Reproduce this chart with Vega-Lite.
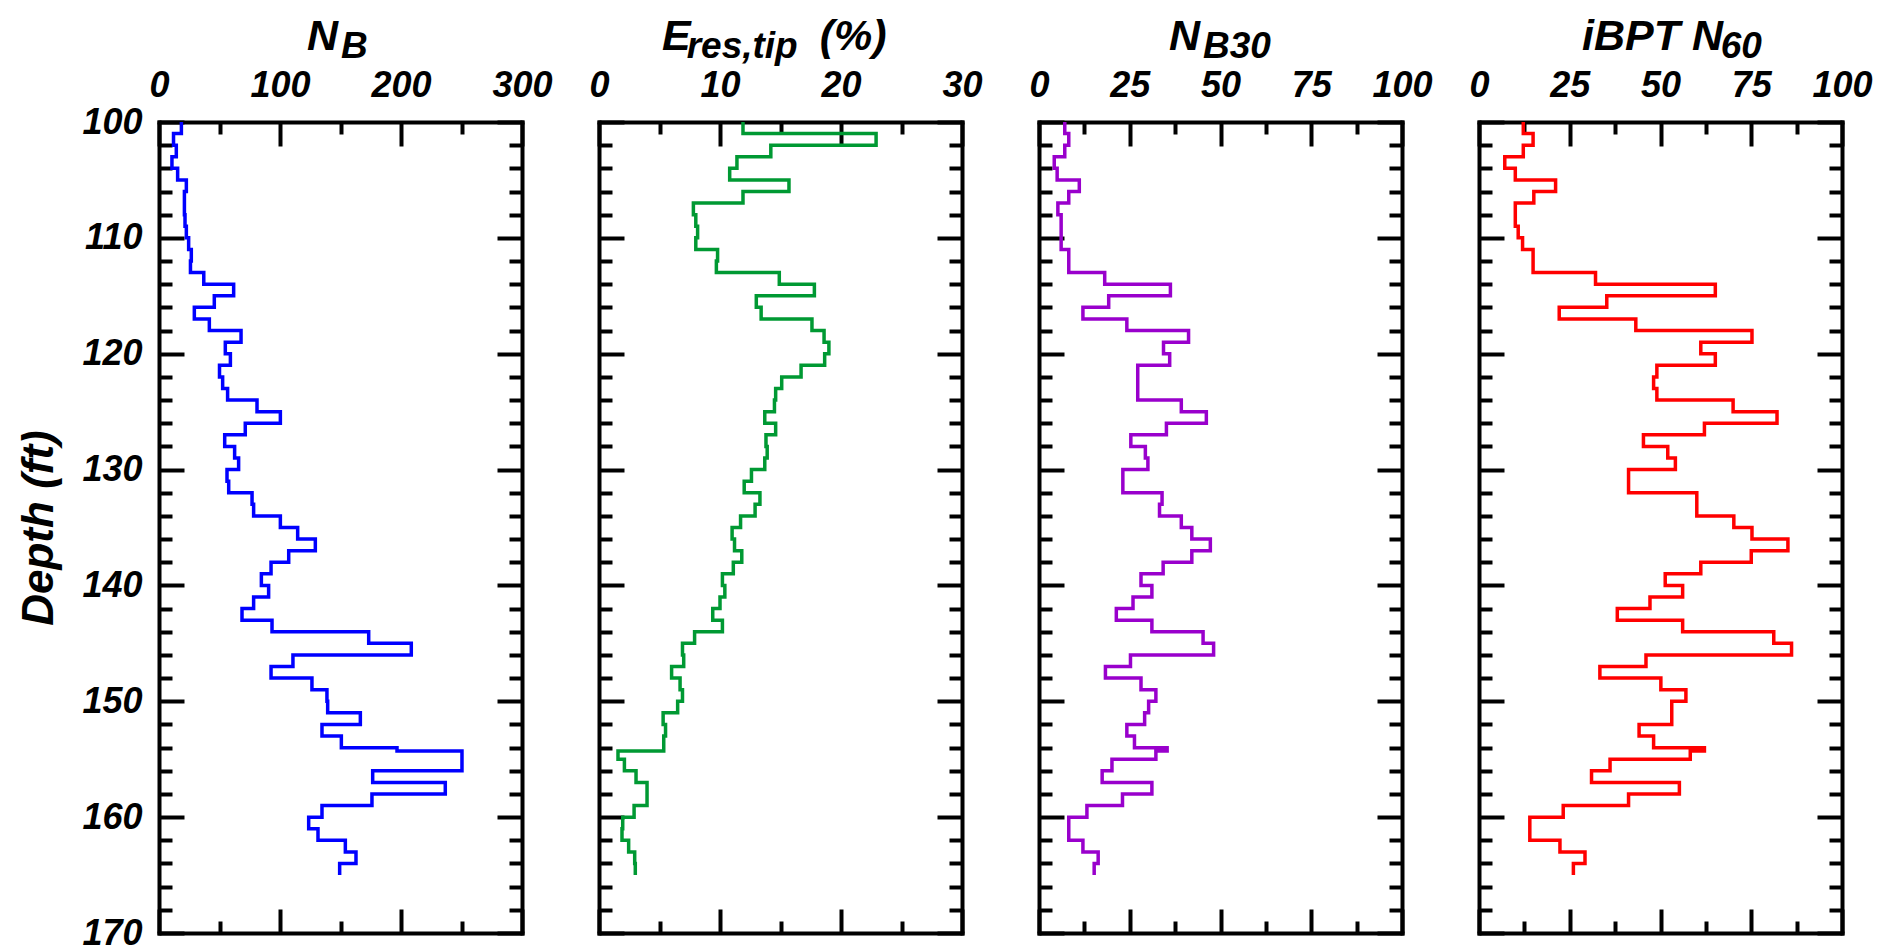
{
  "$schema": "https://vega.github.io/schema/vega-lite/v6.json",
  "padding": {"left": 17, "top": 16, "right": 2, "bottom": 0},
  "data": {"values": [
    {"d":100,"nb":18.5,"eres":11.9,"nb30":7.1,"n60":12.2},
    {"d":101,"nb":12,"eres":22.9,"nb30":8.2,"n60":14.9},
    {"d":102,"nb":14.3,"eres":14.2,"nb30":7.1,"n60":12.2},
    {"d":103,"nb":10.7,"eres":11.4,"nb30":4.2,"n60":7.1},
    {"d":104,"nb":15.4,"eres":10.8,"nb30":5.0,"n60":10.0},
    {"d":105,"nb":22.6,"eres":15.7,"nb30":11.1,"n60":21.1},
    {"d":106,"nb":21,"eres":11.9,"nb30":8.2,"n60":15.1},
    {"d":107,"nb":21,"eres":7.8,"nb30":5.2,"n60":10.0},
    {"d":108,"nb":21.5,"eres":8.0,"nb30":6.1,"n60":10.0},
    {"d":109,"nb":22.6,"eres":8.15,"nb30":6.1,"n60":10.8},
    {"d":110,"nb":24.5,"eres":8.0,"nb30":6.1,"n60":12.0},
    {"d":111,"nb":26.7,"eres":9.8,"nb30":8.2,"n60":14.9},
    {"d":112,"nb":26,"eres":9.7,"nb30":8.2,"n60":14.9},
    {"d":113,"nb":37,"eres":14.9,"nb30":18.1,"n60":32.1},
    {"d":114,"nb":61.7,"eres":17.8,"nb30":36.2,"n60":65.1},
    {"d":115,"nb":45.7,"eres":13.0,"nb30":19.2,"n60":35.2},
    {"d":116,"nb":29.2,"eres":13.4,"nb30":12.1,"n60":22.1},
    {"d":117,"nb":41.6,"eres":17.6,"nb30":24.2,"n60":43.2},
    {"d":118,"nb":67.8,"eres":18.6,"nb30":41.2,"n60":75.2},
    {"d":119,"nb":54.8,"eres":19.0,"nb30":34.3,"n60":61.1},
    {"d":120,"nb":59,"eres":18.65,"nb30":36.0,"n60":65.1},
    {"d":121,"nb":50,"eres":16.7,"nb30":27.2,"n60":49.0},
    {"d":122,"nb":52.6,"eres":15.1,"nb30":27.2,"n60":48.1},
    {"d":123,"nb":56.7,"eres":14.6,"nb30":27.2,"n60":49.0},
    {"d":124,"nb":81,"eres":14.5,"nb30":39.2,"n60":70.0},
    {"d":125,"nb":100.3,"eres":13.7,"nb30":46.1,"n60":82.1},
    {"d":126,"nb":71.3,"eres":14.6,"nb30":35.1,"n60":62.1},
    {"d":127,"nb":54.3,"eres":13.8,"nb30":25.3,"n60":45.3},
    {"d":128,"nb":62.5,"eres":13.9,"nb30":29.3,"n60":52.0},
    {"d":129,"nb":65.8,"eres":13.7,"nb30":30.0,"n60":54.1},
    {"d":130,"nb":56.2,"eres":12.6,"nb30":23.1,"n60":41.2},
    {"d":131,"nb":57.6,"eres":12.0,"nb30":23.1,"n60":41.2},
    {"d":132,"nb":76.9,"eres":13.3,"nb30":33.9,"n60":60.0},
    {"d":133,"nb":78.2,"eres":12.9,"nb30":33.2,"n60":60.0},
    {"d":134,"nb":100.3,"eres":11.7,"nb30":39.2,"n60":70.2},
    {"d":135,"nb":114.6,"eres":11.0,"nb30":42.1,"n60":75.2},
    {"d":136,"nb":129.2,"eres":11.2,"nb30":47.2,"n60":85.1},
    {"d":137,"nb":107.2,"eres":11.8,"nb30":42.1,"n60":75.0},
    {"d":138,"nb":92.6,"eres":11.1,"nb30":34.2,"n60":61.1},
    {"d":139,"nb":84.6,"eres":10.2,"nb30":28.1,"n60":51.3},
    {"d":140,"nb":90.6,"eres":10.4,"nb30":31.1,"n60":56.1},
    {"d":141,"nb":78.2,"eres":10.0,"nb30":25.9,"n60":47.1},
    {"d":142,"nb":68.6,"eres":9.4,"nb30":21.3,"n60":38.1},
    {"d":143,"nb":93.4,"eres":10.2,"nb30":31.1,"n60":56.1},
    {"d":144,"nb":173.3,"eres":7.9,"nb30":45.2,"n60":81.2},
    {"d":145,"nb":208.5,"eres":6.9,"nb30":48.1,"n60":86.1},
    {"d":146,"nb":110.7,"eres":7.0,"nb30":25.2,"n60":46.0},
    {"d":147,"nb":92.6,"eres":6.0,"nb30":18.3,"n60":33.3},
    {"d":148,"nb":126.4,"eres":6.7,"nb30":28.1,"n60":50.1},
    {"d":149,"nb":138.8,"eres":6.9,"nb30":32.2,"n60":57.0},
    {"d":150,"nb":139.4,"eres":6.5,"nb30":30.2,"n60":53.1},
    {"d":151,"nb":166.4,"eres":5.3,"nb30":29.1,"n60":53.1},
    {"d":152,"nb":134.7,"eres":5.5,"nb30":24.2,"n60":44.1},
    {"d":153,"nb":150.7,"eres":5.35,"nb30":26.3,"n60":48.1},
    {"d":154,"nb":196.7,"eres":5.35,"nb30":35.3,"n60":62.1},
    {"d":154.3,"nb":250.4,"eres":1.57,"nb30":32.2,"n60":58.2},
    {"d":155,"nb":250.4,"eres":2.1,"nb30":20.1,"n60":36.1},
    {"d":156,"nb":176.6,"eres":3.06,"nb30":17.4,"n60":31.0},
    {"d":157,"nb":236.6,"eres":3.97,"nb30":31.1,"n60":55.2},
    {"d":158,"nb":176,"eres":3.97,"nb30":23.0,"n60":41.2},
    {"d":159,"nb":134.7,"eres":2.9,"nb30":13.2,"n60":23.2},
    {"d":160,"nb":123.7,"eres":1.96,"nb30":8.2,"n60":14.0},
    {"d":161,"nb":131.4,"eres":1.9,"nb30":8.2,"n60":14.0},
    {"d":162,"nb":154,"eres":2.45,"nb30":12.1,"n60":22.3},
    {"d":163,"nb":162.8,"eres":2.95,"nb30":16.3,"n60":29.2},
    {"d":164,"nb":149.3,"eres":3.0,"nb30":15.2,"n60":26.0},
    {"d":165,"nb":149.3,"eres":3.0,"nb30":15.2,"n60":26.0}
  ]},
  "config": {
    "font": "Liberation Sans",
    "view": {"stroke": null},
    "axis": {
      "grid": false,
      "domainColor": "black", "domainWidth": 4, "domainCap": "square",
      "tickColor": "black", "tickWidth": 4,
      "labelFont": "Liberation Sans", "labelFontSize": 36, "labelFontWeight": "bold", "labelFontStyle": "italic", "labelColor": "black",
      "labelFlush": false, "labelOverlap": false, "labelBound": false,
      "titleFont": "Liberation Sans", "titleFontWeight": "bold", "titleFontStyle": "italic", "titleColor": "black"
    },
    "title": {
      "font": "Liberation Sans", "fontSize": 43, "fontWeight": "bold", "fontStyle": "italic", "color": "black",
      "subtitleFont": "Liberation Sans", "subtitleFontSize": 37, "subtitleFontWeight": "bold", "subtitleFontStyle": "italic", "subtitleColor": "black",
      "subtitlePadding": -30, "anchor": "start", "frame": "group", "align": "left", "offset": -10
    }
  },
  "spacing": 77,
  "bounds": "flush",
  "hconcat": [
    {
      "width": 363, "height": 811,
      "title": {"text": "N", "subtitle": "\u200b\u2002\u2004\u200aB", "dx": 148},
      "layer": [
        {"mark": {"type": "line", "interpolate": "step-before", "color": "#0000ff", "strokeWidth": 3.5},
         "encoding": {
           "x": {"field": "nb", "type": "quantitative", "scale": {"domain": [0, 300], "nice": false},
                 "axis": {"orient": "top", "title": null, "values": [0,50,100,150,200,250,300],
                          "labelExpr": "datum.value % 100 === 0 ? datum.label : ''",
                          "tickSize": {"condition": {"test": "datum.value % 100 === 0", "value": -24}, "value": -12},
                          "labelPadding": 42}},
           "y": {"field": "d", "type": "quantitative", "scale": {"domain": [100, 170], "reverse": true, "nice": false, "zero": false},
                 "axis": {"orient": "left", "title": "Depth (ft)", "titleFontSize": 44, "titlePadding": 20,
                          "values": [100,102,104,106,108,110,112,114,116,118,120,122,124,126,128,130,132,134,136,138,140,142,144,146,148,150,152,154,156,158,160,162,164,166,168,170],
                          "labelExpr": "datum.value % 10 === 0 ? datum.label : ''",
                          "tickSize": {"condition": {"test": "datum.value % 10 === 0", "value": -25}, "value": -13},
                          "labelPadding": 42}},
           "order": {"field": "d", "type": "quantitative"}
         }},
        {"mark": {"type": "line", "interpolate": "step-before", "opacity": 0},
         "encoding": {
           "x": {"field": "nb", "type": "quantitative",
                 "axis": {"orient": "bottom", "title": null, "labels": false, "values": [0,50,100,150,200,250,300],
                          "tickSize": {"condition": {"test": "datum.value % 100 === 0", "value": -24}, "value": -12}}},
           "y": {"field": "d", "type": "quantitative",
                 "axis": {"orient": "right", "title": null, "labels": false,
                          "values": [100,102,104,106,108,110,112,114,116,118,120,122,124,126,128,130,132,134,136,138,140,142,144,146,148,150,152,154,156,158,160,162,164,166,168,170],
                          "tickSize": {"condition": {"test": "datum.value % 10 === 0", "value": -25}, "value": -13}}},
           "order": {"field": "d", "type": "quantitative"}
         }}
      ],
      "resolve": {"axis": {"x": "independent", "y": "independent"}}
    },
    {
      "width": 363, "height": 811,
      "title": {"text": "E\u2003\u2003\u2003(%)", "subtitle": "\u200b\u2002\u2006res,tip", "dx": 63},
      "layer": [
        {"mark": {"type": "line", "interpolate": "step-before", "color": "#009933", "strokeWidth": 3.5},
         "encoding": {
           "x": {"field": "eres", "type": "quantitative", "scale": {"domain": [0, 30], "nice": false},
                 "axis": {"orient": "top", "title": null, "values": [0,5,10,15,20,25,30],
                          "labelExpr": "datum.value % 10 === 0 ? datum.label : ''",
                          "tickSize": {"condition": {"test": "datum.value % 10 === 0", "value": -24}, "value": -12},
                          "labelPadding": 42}},
           "y": {"field": "d", "type": "quantitative", "scale": {"domain": [100, 170], "reverse": true, "nice": false, "zero": false},
                 "axis": {"orient": "left", "title": null, "labels": false,
                          "values": [100,102,104,106,108,110,112,114,116,118,120,122,124,126,128,130,132,134,136,138,140,142,144,146,148,150,152,154,156,158,160,162,164,166,168,170],
                          "tickSize": {"condition": {"test": "datum.value % 10 === 0", "value": -25}, "value": -13}}},
           "order": {"field": "d", "type": "quantitative"}
         }},
        {"mark": {"type": "line", "interpolate": "step-before", "opacity": 0},
         "encoding": {
           "x": {"field": "eres", "type": "quantitative",
                 "axis": {"orient": "bottom", "title": null, "labels": false, "values": [0,5,10,15,20,25,30],
                          "tickSize": {"condition": {"test": "datum.value % 10 === 0", "value": -24}, "value": -12}}},
           "y": {"field": "d", "type": "quantitative",
                 "axis": {"orient": "right", "title": null, "labels": false,
                          "values": [100,102,104,106,108,110,112,114,116,118,120,122,124,126,128,130,132,134,136,138,140,142,144,146,148,150,152,154,156,158,160,162,164,166,168,170],
                          "tickSize": {"condition": {"test": "datum.value % 10 === 0", "value": -25}, "value": -13}}},
           "order": {"field": "d", "type": "quantitative"}
         }}
      ],
      "resolve": {"axis": {"x": "independent", "y": "independent"}}
    },
    {
      "width": 363, "height": 811,
      "title": {"text": "N", "subtitle": "\u200b\u2002\u2004\u200aB30", "dx": 130},
      "layer": [
        {"mark": {"type": "line", "interpolate": "step-before", "color": "#9900cc", "strokeWidth": 3.5},
         "encoding": {
           "x": {"field": "nb30", "type": "quantitative", "scale": {"domain": [0, 100], "nice": false},
                 "axis": {"orient": "top", "title": null, "values": [0,12.5,25,37.5,50,62.5,75,87.5,100],
                          "labelExpr": "datum.value % 25 === 0 ? datum.label : ''",
                          "tickSize": {"condition": {"test": "datum.value % 25 === 0", "value": -24}, "value": -12},
                          "labelPadding": 42}},
           "y": {"field": "d", "type": "quantitative", "scale": {"domain": [100, 170], "reverse": true, "nice": false, "zero": false},
                 "axis": {"orient": "left", "title": null, "labels": false,
                          "values": [100,102,104,106,108,110,112,114,116,118,120,122,124,126,128,130,132,134,136,138,140,142,144,146,148,150,152,154,156,158,160,162,164,166,168,170],
                          "tickSize": {"condition": {"test": "datum.value % 10 === 0", "value": -25}, "value": -13}}},
           "order": {"field": "d", "type": "quantitative"}
         }},
        {"mark": {"type": "line", "interpolate": "step-before", "opacity": 0},
         "encoding": {
           "x": {"field": "nb30", "type": "quantitative",
                 "axis": {"orient": "bottom", "title": null, "labels": false, "values": [0,12.5,25,37.5,50,62.5,75,87.5,100],
                          "tickSize": {"condition": {"test": "datum.value % 25 === 0", "value": -24}, "value": -12}}},
           "y": {"field": "d", "type": "quantitative",
                 "axis": {"orient": "right", "title": null, "labels": false,
                          "values": [100,102,104,106,108,110,112,114,116,118,120,122,124,126,128,130,132,134,136,138,140,142,144,146,148,150,152,154,156,158,160,162,164,166,168,170],
                          "tickSize": {"condition": {"test": "datum.value % 10 === 0", "value": -25}, "value": -13}}},
           "order": {"field": "d", "type": "quantitative"}
         }}
      ],
      "resolve": {"axis": {"x": "independent", "y": "independent"}}
    },
    {
      "width": 363, "height": 811,
      "title": {"text": "iBPT N", "subtitle": "\u200b\u2003\u2003\u2003\u2002\u200560", "dx": 103},
      "layer": [
        {"mark": {"type": "line", "interpolate": "step-before", "color": "#ff0000", "strokeWidth": 3.5},
         "encoding": {
           "x": {"field": "n60", "type": "quantitative", "scale": {"domain": [0, 100], "nice": false},
                 "axis": {"orient": "top", "title": null, "values": [0,12.5,25,37.5,50,62.5,75,87.5,100],
                          "labelExpr": "datum.value % 25 === 0 ? datum.label : ''",
                          "tickSize": {"condition": {"test": "datum.value % 25 === 0", "value": -24}, "value": -12},
                          "labelPadding": 42}},
           "y": {"field": "d", "type": "quantitative", "scale": {"domain": [100, 170], "reverse": true, "nice": false, "zero": false},
                 "axis": {"orient": "left", "title": null, "labels": false,
                          "values": [100,102,104,106,108,110,112,114,116,118,120,122,124,126,128,130,132,134,136,138,140,142,144,146,148,150,152,154,156,158,160,162,164,166,168,170],
                          "tickSize": {"condition": {"test": "datum.value % 10 === 0", "value": -25}, "value": -13}}},
           "order": {"field": "d", "type": "quantitative"}
         }},
        {"mark": {"type": "line", "interpolate": "step-before", "opacity": 0},
         "encoding": {
           "x": {"field": "n60", "type": "quantitative",
                 "axis": {"orient": "bottom", "title": null, "labels": false, "values": [0,12.5,25,37.5,50,62.5,75,87.5,100],
                          "tickSize": {"condition": {"test": "datum.value % 25 === 0", "value": -24}, "value": -12}}},
           "y": {"field": "d", "type": "quantitative",
                 "axis": {"orient": "right", "title": null, "labels": false,
                          "values": [100,102,104,106,108,110,112,114,116,118,120,122,124,126,128,130,132,134,136,138,140,142,144,146,148,150,152,154,156,158,160,162,164,166,168,170],
                          "tickSize": {"condition": {"test": "datum.value % 10 === 0", "value": -25}, "value": -13}}},
           "order": {"field": "d", "type": "quantitative"}
         }}
      ],
      "resolve": {"axis": {"x": "independent", "y": "independent"}}
    }
  ]
}
